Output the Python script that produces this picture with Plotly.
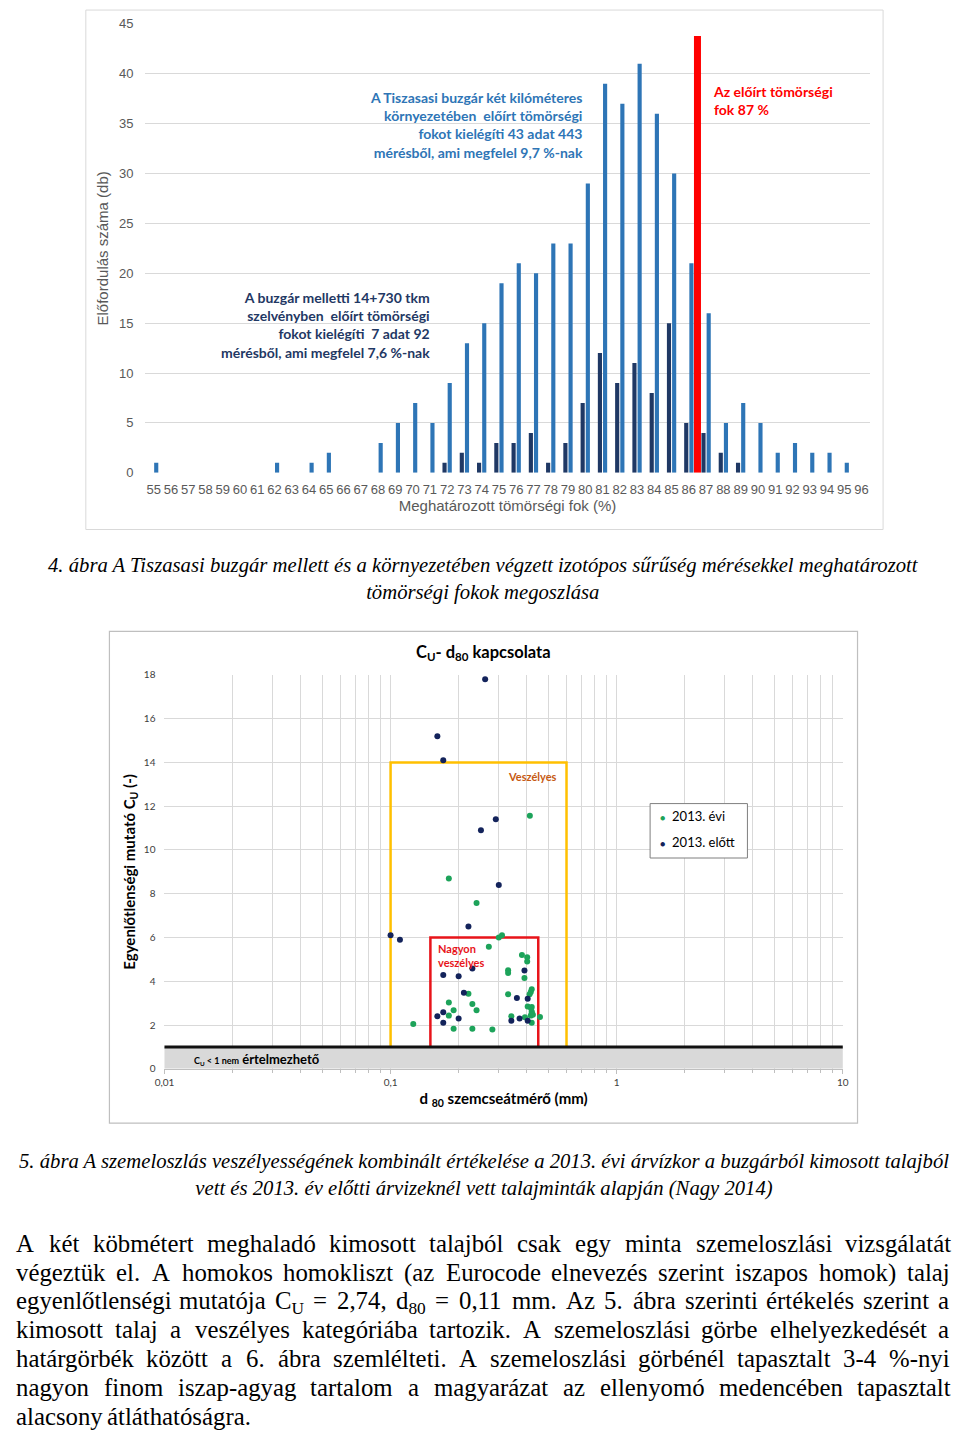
import re
import plotly.graph_objects as go

# page is 960x1438; the default 8px body margin is left around the figure
PAGE_W, PAGE_H = 960, 1438
OFF = 8
W, H = PAGE_W - 2 * OFF, PAGE_H - 2 * OFF

# ---------------- Chart 1 data (4. ábra) ----------------
degree_categories = [55, 56, 57, 58, 59, 60, 61, 62, 63, 64, 65, 66, 67, 68, 69, 70, 71, 72, 73, 74, 75,
                     76, 77, 78, 79, 80, 81, 82, 83, 84, 85, 86, 87, 88, 89, 90, 91, 92, 93, 94, 95, 96]
degree_tick_labels = [str(c) for c in degree_categories]
# dark navy bars: 14+730 tkm szelvény (92 mérés)
counts_section = [0, 0, 0, 0, 0, 0, 0, 0, 0, 0, 0, 0, 0, 0, 0, 0, 0, 1, 2, 1, 3,
                  3, 4, 1, 3, 7, 12, 9, 11, 8, 15, 5, 4, 2, 1, 0, 0, 0, 0, 0, 0, 0]
# light blue bars: két kilométeres környezet (443 mérés)
counts_two_km = [1, 0, 0, 0, 0, 0, 0, 1, 0, 1, 2, 0, 0, 3, 5, 7, 5, 9, 13, 15, 19,
                 21, 20, 23, 23, 29, 39, 37, 41, 36, 30, 21, 16, 5, 7, 5, 2, 3, 2, 2, 1, 0]
threshold_degree = [86.5, 86.5]
threshold_height = [0, 43.8]

# ---------------- Chart 2 data (5. ábra) ----------------
d80_2013 = [0.126, 0.181, 0.181, 0.181, 0.190, 0.190, 0.221, 0.230, 0.230, 0.240, 0.240, 0.272,
            0.282, 0.301, 0.311, 0.331, 0.331, 0.331, 0.342, 0.381, 0.391, 0.393, 0.402, 0.402,
            0.404, 0.412, 0.413, 0.417, 0.417, 0.421, 0.421, 0.421, 0.421, 0.421, 0.426, 0.418, 0.458]
cu_2013 = [2.05, 8.70, 3.03, 2.43, 2.67, 1.83, 3.43, 2.96, 1.83, 7.58, 2.67, 5.58,
           1.80, 6.00, 6.10, 4.50, 4.38, 3.41, 2.40, 5.20, 4.15, 2.35, 5.10, 4.90,
           2.85, 3.41, 11.56, 3.51, 2.43, 3.63, 2.82, 2.62, 2.55, 2.10, 2.47, 2.77, 2.37]
d80_before = [0.262, 0.161, 0.171, 0.292, 0.251, 0.301, 0.221, 0.100, 0.110, 0.230, 0.171, 0.200,
              0.391, 0.211, 0.362, 0.404, 0.161, 0.171, 0.171, 0.200, 0.342, 0.372, 0.404]
cu_before = [17.8, 15.2, 14.1, 11.4, 10.9, 8.4, 6.5, 6.1, 5.9, 4.58, 4.28, 4.23,
             4.49, 3.48, 3.23, 3.20, 2.40, 2.58, 2.10, 2.30, 2.20, 2.30, 2.20]
zone_dangerous_d = [0.1, 0.1, 0.6, 0.6]
zone_dangerous_cu = [1, 14, 14, 1]
zone_very_dangerous_d = [0.15, 0.15, 0.45, 0.45]
zone_very_dangerous_cu = [1, 6, 6, 1]
x2_tick_values = [0.01, 0.1, 1, 10]
x2_tick_labels = ["0,01", "0,1", "1", "10"]
x2_minor_values = [0.02, 0.03, 0.04, 0.05, 0.06, 0.07, 0.08, 0.09,
                   0.2, 0.3, 0.4, 0.5, 0.6, 0.7, 0.8, 0.9,
                   2, 3, 4, 5, 6, 7, 8, 9]
legend_labels = ["2013. évi", "2013. előtt"]

# ---------------- Text ----------------
caption1 = ("4. ábra A Tiszasasi buzgár mellett és a környezetében végzett izotópos sűrűség mérésekkel meghatározott"
            "<br>tömörségi fokok megoszlása")
caption2 = ("5. ábra A szemeloszlás veszélyességének kombinált értékelése a 2013. évi árvízkor a buzgárból kimosott talajból"
            "<br>vett és 2013. év előtti árvizeknél vett talajminták alapján (Nagy 2014)")
paragraph_lines = [
    "A két köbmétert meghaladó kimosott talajból csak egy minta szemeloszlási vizsgálatát",
    "végeztük el. A homokos homokliszt (az Eurocode elnevezés szerint iszapos homok) talaj",
    "egyenlőtlenségi mutatója C<sub>U</sub> = 2,74, d<sub>80</sub> = 0,11 mm. Az 5. ábra szerinti értékelés szerint a",
    "kimosott talaj a veszélyes kategóriába tartozik. A szemeloszlási görbe elhelyezkedését a",
    "határgörbék között a 6. ábra szemlélteti. A szemeloszlási görbénél tapasztalt 3-4 %-nyi",
    "nagyon finom iszap-agyag tartalom a magyarázat az ellenyomó medencében tapasztalt",
    "alacsony átláthatóságra.",
]

SANS = "Liberation Sans, Arial, sans-serif"
NARROW = "Liberation Sans Narrow, Arial Narrow, Liberation Sans, sans-serif"
CAL = "Lato, Carlito, Calibri, sans-serif"
SERIF = "Liberation Serif, Times New Roman, serif"
GRAY = "#595959"
GRID = "#D9D9D9"
LIGHT_BLUE = "#2E75B6"
NAVY = "#1F3864"
GREEN = "#1DA35A"
DARK = "#13235B"


def px(x):
    """page pixel x -> paper x"""
    return (x - OFF) / W


def py(y):
    """page pixel y -> paper y"""
    return 1 - (y - OFF) / H


fig = go.Figure()

# ---- chart 1 bars ----
fig.add_trace(go.Bar(x=degree_categories, y=counts_section, marker=dict(color=NAVY, line=dict(width=0)),
                     width=0.24, offset=-0.27, showlegend=False, xaxis="x", yaxis="y",
                     name="14+730 tkm"))
fig.add_trace(go.Bar(x=degree_categories, y=counts_two_km, marker=dict(color=LIGHT_BLUE, line=dict(width=0)),
                     width=0.24, offset=0.03, showlegend=False, xaxis="x", yaxis="y",
                     name="két km"))
fig.add_trace(go.Scatter(x=threshold_degree, y=threshold_height, mode="lines",
                         line=dict(color="#FF0000", width=7), showlegend=False,
                         xaxis="x", yaxis="y", hoverinfo="skip"))

# ---- chart 2 ----
fig.add_trace(go.Scatter(x=zone_dangerous_d, y=zone_dangerous_cu, mode="lines",
                         line=dict(color="#FFC000", width=2.5), showlegend=False,
                         xaxis="x2", yaxis="y2", hoverinfo="skip"))
fig.add_trace(go.Scatter(x=zone_very_dangerous_d, y=zone_very_dangerous_cu, mode="lines",
                         line=dict(color="#E8141A", width=2.5), showlegend=False,
                         xaxis="x2", yaxis="y2", hoverinfo="skip"))
fig.add_trace(go.Scatter(x=d80_2013, y=cu_2013, mode="markers", name=legend_labels[0],
                         marker=dict(color=GREEN, size=6), xaxis="x2", yaxis="y2", showlegend=False))
fig.add_trace(go.Scatter(x=d80_before, y=cu_before, mode="markers", name=legend_labels[1],
                         marker=dict(color=DARK, size=6), xaxis="x2", yaxis="y2", showlegend=False))

shapes = [
    dict(type="rect", xref="paper", yref="paper", x0=px(77), x1=px(888), y0=py(528), y1=py(3),
         line=dict(color=GRID, width=1)),
    dict(type="rect", xref="paper", yref="paper", x0=px(101), x1=px(862), y0=py(1128), y1=py(631),
         line=dict(color="#BFBFBF", width=1.2)),
    dict(type="rect", xref="x2 domain", yref="y2", x0=0, x1=1, y0=0, y1=1,
         fillcolor="#D9D9D9", line=dict(width=0), layer="above"),
    dict(type="line", xref="x2 domain", yref="y2", x0=0, x1=1, y0=1, y1=1,
         line=dict(color="#111111", width=3), layer="above"),
    # legend box of chart 2
    dict(type="rect", xref="paper", yref="paper", x0=px(651), x1=px(750), y0=py(860), y1=py(805),
         fillcolor="white", line=dict(color="#7F7F7F", width=1), layer="above"),
]

annotations = [
    dict(text="<b>A Tiszasasi buzgár két kilóméteres<br>környezetében  előírt tömörségi<br>"
              "fokot kielégíti 43 adat 443<br>mérésből, ami megfelel 9,7 %-nak</b>",
         x=px(585), y=py(119.5), xanchor="right", yanchor="middle", align="right",
         font=dict(family=CAL, size=14, color=LIGHT_BLUE)),
    dict(text="<b>A buzgár melletti 14+730 tkm<br>szelvényben  előírt tömörségi<br>"
              "fokot kielégíti  7 adat 92<br>mérésből, ami megfelel 7,6 %-nak</b>",
         x=px(429), y=py(321.5), xanchor="right", yanchor="middle", align="right",
         font=dict(family=CAL, size=14, color=NAVY)),
    dict(text="<b>Az előírt tömörségi<br>fok 87 %</b>",
         x=px(713), y=py(94), xanchor="left", yanchor="middle", align="left",
         font=dict(family=CAL, size=14, color="#FF0000")),
    dict(text="<i>" + caption1 + "</i>", x=px(482), y=py(578), xanchor="center", yanchor="middle",
         align="center", font=dict(family=SERIF, size=20.7, color="#000000")),
    dict(text="<b>C<sub>U</sub>- d<sub>80</sub> kapcsolata</b>", x=px(482), y=py(652),
         xanchor="center", yanchor="middle", font=dict(family=CAL, size=16.5, color="#000000")),
    dict(text="<b>Veszélyes</b>", x=px(531), y=py(778), xanchor="center", yanchor="middle",
         font=dict(family=CAL, size=11, color="#C65911")),
    dict(text="<b>Nagyon<br>veszélyes</b>", x=px(433), y=py(958.5), xanchor="left", yanchor="middle",
         align="left", font=dict(family=CAL, size=11, color="#E8141A")),
    dict(text="<b><span style='font-size:9px'>C<sub>U</sub> &lt; 1 nem</span> értelmezhető</b>",
         x=px(185), y=py(1063), xanchor="left", yanchor="middle",
         font=dict(family=CAL, size=13, color="#000000")),
    dict(text="<i>" + caption2 + "</i>", x=px(482), y=py(1180), xanchor="center", yanchor="middle",
         align="center", font=dict(family=SERIF, size=20.7, color="#000000")),
    # legend entries of chart 2
    dict(text="<span style='color:%s;font-size:9px'>●</span>  %s" % (GREEN, legend_labels[0]),
         x=px(659), y=py(818), xanchor="left", yanchor="middle",
         font=dict(family=CAL, size=13, color="#000000")),
    dict(text="<span style='color:%s;font-size:9px'>●</span>  %s" % (DARK, legend_labels[1]),
         x=px(659), y=py(844), xanchor="left", yanchor="middle",
         font=dict(family=CAL, size=13, color="#000000")),
]

# ---- justified paragraph, word by word (Times/Liberation Serif metrics) ----
TW = {'a': 444, 'b': 500, 'c': 444, 'd': 500, 'e': 444, 'f': 333, 'g': 500, 'h': 500, 'i': 278, 'j': 278,
      'k': 500, 'l': 278, 'm': 778, 'n': 500, 'o': 500, 'p': 500, 'q': 500, 'r': 333, 's': 389, 't': 278,
      'u': 500, 'v': 500, 'w': 722, 'x': 500, 'y': 500, 'z': 444, 'á': 444, 'é': 444, 'í': 278, 'ó': 500,
      'ö': 500, 'ő': 500, 'ú': 500, 'ü': 500, 'ű': 500, 'A': 722, 'C': 667, 'E': 611, 'U': 722,
      '.': 250, ',': 250, '(': 333, ')': 333, '=': 564, '-': 333, '%': 833, ' ': 250}


def text_width(s, size):
    total = 0.0
    for part in re.split(r'(<sub>.*?</sub>)', s):
        if part.startswith('<sub>'):
            total += 0.7 * sum(TW.get(ch, 500) for ch in part[5:-6])
        else:
            total += sum(TW.get(ch, 500) for ch in part)
    return total * size / 1000.0


P_SIZE = 24.8
P_LEFT, P_RIGHT = 5, 954
P_TOP, P_STEP = 1249, 29.2
for i, line in enumerate(paragraph_lines):
    words = line.split(" ")
    widths = [text_width(w, P_SIZE) for w in words]
    yc = P_TOP + i * P_STEP
    if i < len(paragraph_lines) - 1 and len(words) > 1:
        gap = (P_RIGHT - P_LEFT - sum(widths)) / (len(words) - 1)
    else:
        gap = 0.25 * P_SIZE
    xcur = P_LEFT
    for w, wd in zip(words, widths):
        annotations.append(dict(text=w, x=px(xcur - 1), y=py(yc - P_SIZE * 0.62), xanchor="left",
                                yanchor="top", font=dict(family=SERIF, size=P_SIZE, color="#000000")))
        xcur += wd + gap

for a in annotations:
    a.setdefault("xref", "paper")
    a.setdefault("yref", "paper")
    a.setdefault("showarrow", False)

fig.update_layout(
    width=W, height=H, autosize=False,
    margin=dict(l=0, r=0, t=0, b=0),
    paper_bgcolor="white", plot_bgcolor="white",
    barmode="overlay",
    shapes=shapes, annotations=annotations,
    xaxis=dict(domain=[px(137.2), px(874.8)], range=[54.5, 96.5], anchor="y",
               tickmode="array", tickvals=degree_categories, ticktext=degree_tick_labels,
               tickfont=dict(family=NARROW, size=13, color=GRAY), ticks="outside", ticklen=5,
               tickcolor="rgba(0,0,0,0)", showgrid=False, zeroline=False, showline=False,
               title=dict(text="Meghatározott tömörségi fok (%)", standoff=4,
                          font=dict(family=SANS, size=15, color=GRAY))),
    yaxis=dict(domain=[py(470.7), py(17)], range=[0, 45], anchor="x", dtick=5,
               tickfont=dict(family=SANS, size=13, color=GRAY), ticks="outside", ticklen=8,
               tickcolor="rgba(0,0,0,0)", showgrid=True, gridcolor=GRID, gridwidth=1,
               zeroline=False, showline=False,
               title=dict(text="Előfordulás száma (db)", standoff=6,
                          font=dict(family=SANS, size=15, color=GRAY))),
    xaxis2=dict(domain=[px(157), px(847)], type="log", range=[-2, 1], anchor="y2",
                tickmode="array", tickvals=x2_tick_values, ticktext=x2_tick_labels,
                tickfont=dict(family=CAL, size=10, color="#404040"), ticks="outside", ticklen=4,
                tickcolor="#BFBFBF", showgrid=True, gridcolor=GRID, zeroline=False,
                showline=True, linecolor="#BFBFBF",
                minor=dict(tickmode="array", tickvals=x2_minor_values, showgrid=True, gridcolor=GRID,
                           ticks="outside", ticklen=3, tickcolor="#BFBFBF"),
                title=dict(text="<b>d <sub>80</sub> szemcseátmérő (mm)</b>", standoff=6,
                           font=dict(family=CAL, size=15, color="#000000"))),
    yaxis2=dict(domain=[py(1073), py(675)], range=[0, 18], anchor="x2", dtick=2,
                tickfont=dict(family=CAL, size=10, color="#404040"), ticks="outside", ticklen=6,
                tickcolor="rgba(0,0,0,0)", showgrid=True, gridcolor=GRID, zeroline=False,
                showline=False,
                title=dict(text="<b>Egyenlőtlenségi mutató C<sub>U</sub> (-)</b>", standoff=4,
                           font=dict(family=CAL, size=15, color="#000000"))),
    showlegend=False,
)

fig.write_html("out.html", config={"displayModeBar": False})
